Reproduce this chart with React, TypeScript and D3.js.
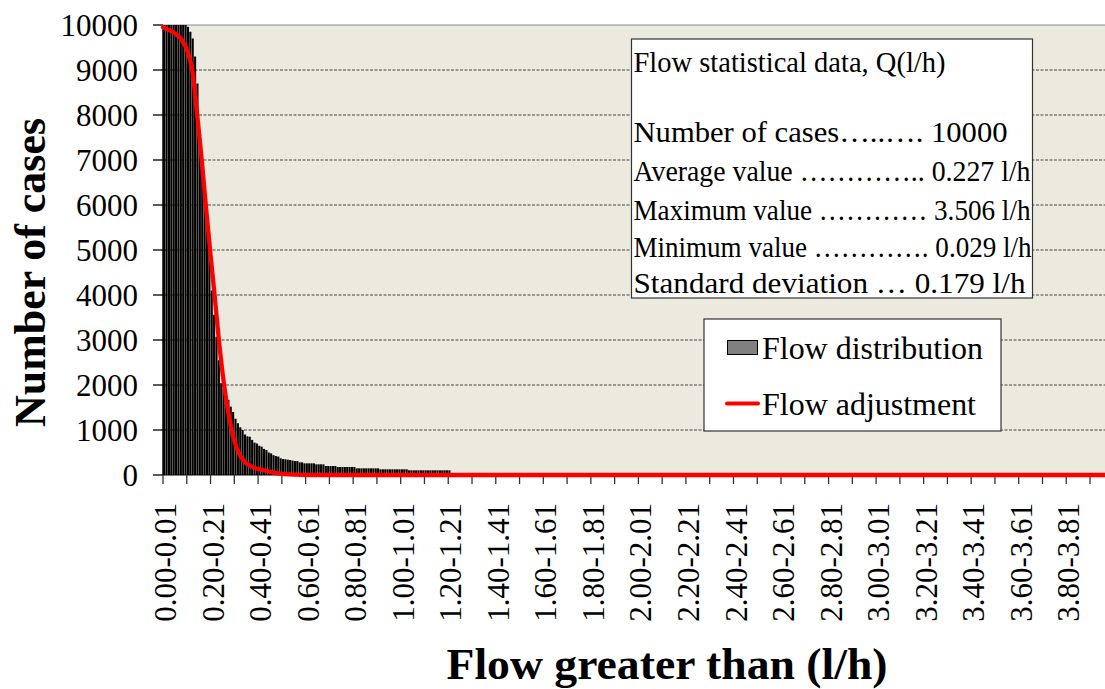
import React from "react";
import * as d3 from "d3";

// ---- data ----
const binWidthFlow = 0.01; // l/h per category
const binCount = 397;

// counts of the first 55 categories (0.00-0.01 ... 0.54-0.55)
const headCounts = [
  10000, 10000, 10000, 10000, 10000, 10000, 10000, 10000, 10000, 10000,
  9960, 9850, 9700, 9300, 8700, 7500, 6900, 6300, 5700, 5050,
  4100, 3560, 3070, 2550, 2040, 1900, 1800, 1670, 1520, 1400,
  1250, 1150, 1060, 1000, 900, 860, 850, 780, 720, 700,
  650, 630, 580, 555, 500, 480, 440, 420, 410, 370,
  355, 350, 340, 333, 320,
];
// the tail is made of plateaus: number of categories and count of each plateau
const tailRunLengths = [2, 2, 5, 4, 5, 8, 10, 12, 18, 40, 40, 60, 40, 50, 1, 45];
const tailRunCounts = [311, 281, 259, 237, 200, 178, 148, 126, 104, 30, 20, 12, 6, 3, 1, 0];

// fitted "Flow adjustment" curve
const fitFlow = [0, 0.008, 0.05, 0.079, 0.106, 0.123, 0.144, 0.163, 0.18, 0.198, 0.217, 0.235, 0.257, 0.289, 0.313, 0.337, 0.373, 0.421, 0.492, 0.576, 0.66, 3.97];
const fitCount = [9950, 9926, 9815, 9667, 9370, 9000, 8000, 7000, 6000, 5000, 4000, 3000, 2000, 1000, 555, 333, 185, 111, 30, 5, 0, 0];

const xTickLabels = [
  "0.00-0.01", "0.20-0.21", "0.40-0.41", "0.60-0.61", "0.80-0.81",
  "1.00-1.01", "1.20-1.21", "1.40-1.41", "1.60-1.61", "1.80-1.81",
  "2.00-2.01", "2.20-2.21", "2.40-2.41", "2.60-2.61", "2.80-2.81",
  "3.00-3.01", "3.20-3.21", "3.40-3.41", "3.60-3.61", "3.80-3.81",
];
const yTicks = [0, 1000, 2000, 3000, 4000, 5000, 6000, 7000, 8000, 9000, 10000];

const statsLines = [
  "Flow statistical data, Q(l/h)",
  "",
  "Number of cases…..…. 10000",
  "Average value ………….. 0.227 l/h",
  "Maximum value ………… 3.506 l/h",
  "Minimum value …………. 0.029 l/h",
  "Standard deviation … 0.179 l/h",
];
const statsWidths = [312, 0, 374, 397, 397, 398, 392];
const statsBaselines = [72, 107, 142, 181, 219.5, 257, 293];

const legendLabels = ["Flow distribution", "Flow adjustment"];

// ---- build tables ----
const categories = d3.range(binCount).map(
  (i) => `${(i * binWidthFlow).toFixed(2)}-${((i + 1) * binWidthFlow).toFixed(2)}`
);
const counts: number[] = [...headCounts];
tailRunLengths.forEach((len, k) => {
  for (let j = 0; j < len; j++) counts.push(tailRunCounts[k]);
});
const bars = categories.map((c, i) => ({ cat: c, count: counts[i] ?? 0 }));
const fitPoints = fitFlow.map((f, i) => ({ f, c: fitCount[i] }));

const FONT = "'Liberation Serif', 'Times New Roman', Times, serif";

export default function App() {
  const left = 163;
  const step = 2.377;
  const right = left + binCount * step;
  const top = 25;
  const bottom = 475;

  const x = d3.scaleBand<string>().domain(categories).range([left, right]).paddingInner(0.12).paddingOuter(0.06);
  const xLin = d3.scaleLinear().domain([0, binCount * binWidthFlow]).range([left, right]);
  const y = d3.scaleLinear().domain([0, 10000]).range([bottom, top]);

  const line = d3
    .line<{ f: number; c: number }>()
    .x((d) => xLin(d.f))
    .y((d) => y(d.c))
    .curve(d3.curveMonotoneX);

  const xTickPos = d3.range(0, binCount, 10).map((i) => xLin(i * binWidthFlow));

  return (
    <svg
      width={1105}
      height={689}
      style={{ position: "absolute", left: 0, top: 0, background: "#fff", fontFamily: FONT }}
    >
      <defs>
        <clipPath id="plotclip">
          <rect x={left - 3} y={0} width={1105 - left + 3} height={bottom + 5} />
        </clipPath>
      </defs>
      {/* plot background */}
      <rect x={left} y={top} width={right - left} height={bottom - top} fill="#ECE9DF" />
      {/* gridlines */}
      {yTicks
        .filter((v) => v > 0 && v < 10000)
        .map((v) => (
          <line key={v} x1={left} x2={right} y1={y(v)} y2={y(v)} stroke="#474747" strokeWidth={1.2} strokeDasharray="3 1.5" />
        ))}
      <line x1={left} x2={right} y1={y(10000)} y2={y(10000)} stroke="#8a8a8a" strokeWidth={1} />
      {/* bars */}
      <g>
        {bars.map((d) =>
          d.count > 0 ? (
            <rect key={d.cat} x={x(d.cat)} y={y(d.count)} width={x.bandwidth()} height={bottom - y(d.count)} fill="#000" />
          ) : null
        )}
      </g>
      {/* axes */}
      <line x1={left} x2={left} y1={top} y2={bottom} stroke="#000" strokeWidth={1.5} />
      <line x1={left} x2={right} y1={bottom} y2={bottom} stroke="#000" strokeWidth={1.2} />
      {yTicks.map((v) => (
        <g key={v}>
          <line x1={153} x2={left} y1={y(v)} y2={y(v)} stroke="#000" strokeWidth={1.3} />
          <text x={138} y={y(v)} dy="0.35em" textAnchor="end" fontSize={31} fill="#000">
            {v}
          </text>
        </g>
      ))}
      {xTickPos.map((px, i) => (
        <line key={i} x1={px} x2={px} y1={bottom} y2={bottom + 9} stroke="#333" strokeWidth={1.3} />
      ))}
      {/* fitted line */}
      <g clipPath="url(#plotclip)">
        <path d={line(fitPoints) ?? ""} fill="none" stroke="#FF0000" strokeWidth={4.3} strokeLinecap="round" strokeLinejoin="round" />
      </g>
      {/* x tick labels */}
      {xTickLabels.map((lab) => {
        const cx = (x(lab) ?? 0) + x.bandwidth() / 2 + 1;
        return (
          <text
            key={lab}
            transform={`translate(${cx},503) rotate(-90)`}
            dy="0.35em"
            textAnchor="end"
            fontSize={31}
            fill="#000"
          >
            {lab}
          </text>
        );
      })}
      {/* axis titles */}
      <text
        transform="translate(45,272.5) rotate(-90)"
        textAnchor="middle"
        fontSize={44}
        fontWeight="bold"
        textLength={309}
        lengthAdjust="spacingAndGlyphs"
      >
        Number of cases
      </text>
      <text x={667} y={679} textAnchor="middle" fontSize={44} fontWeight="bold" textLength={441} lengthAdjust="spacingAndGlyphs">
        Flow greater than (l/h)
      </text>
      {/* statistics box */}
      <rect x={631.5} y={39} width={401} height={259} fill="#fff" stroke="#333" strokeWidth={1.2} />
      {statsLines.map((s, i) =>
        s ? (
          <text
            key={i}
            x={633.5}
            y={statsBaselines[i]}
            fontSize={30}
            fill="#000"
            textLength={statsWidths[i]}
            lengthAdjust="spacingAndGlyphs"
          >
            {s}
          </text>
        ) : null
      )}
      {/* legend */}
      <rect x={704} y={319} width={297} height={112} fill="#fff" stroke="#333" strokeWidth={1.2} />
      <rect x={727.5} y={340.5} width={30} height={14} fill="#808080" stroke="#000" strokeWidth={1} />
      <text x={762} y={359} fontSize={32} textLength={221} lengthAdjust="spacingAndGlyphs">
        {legendLabels[0]}
      </text>
      <line x1={727} x2={758} y1={403.5} y2={403.5} stroke="#FF0000" strokeWidth={4} strokeLinecap="round" />
      <text x={762} y={415} fontSize={32} textLength={214} lengthAdjust="spacingAndGlyphs">
        {legendLabels[1]}
      </text>
    </svg>
  );
}
